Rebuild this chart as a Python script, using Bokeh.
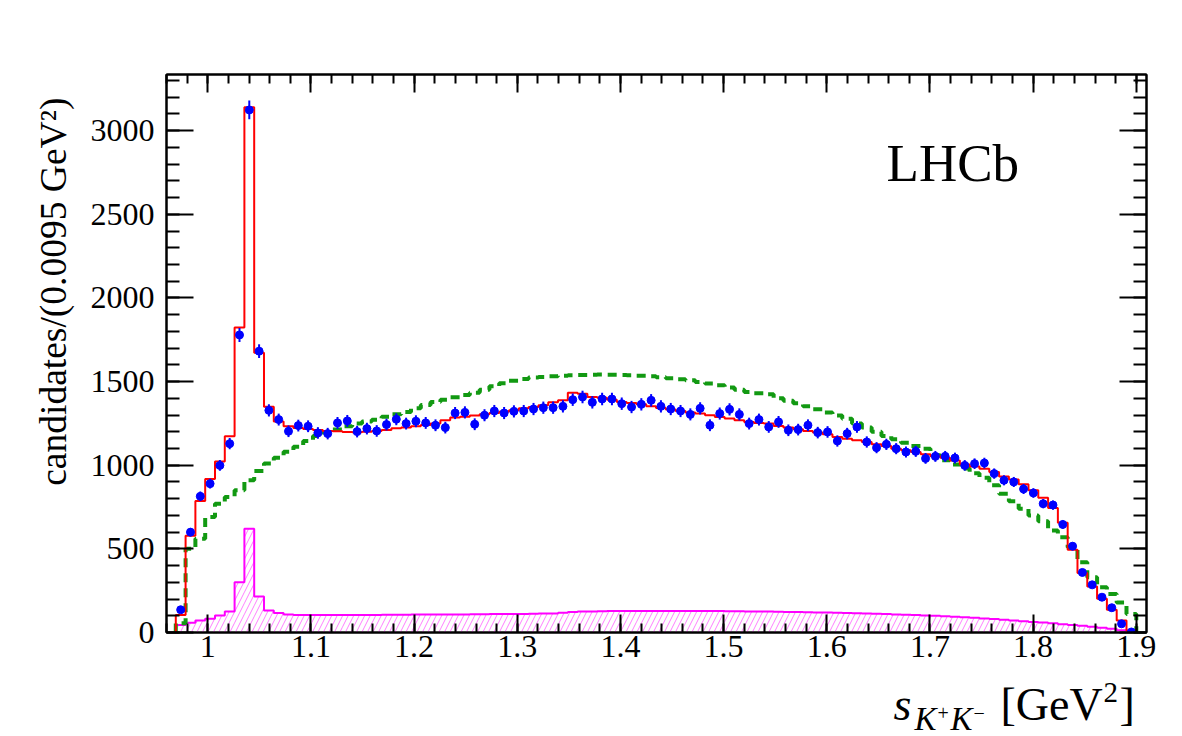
import numpy as np
from bokeh.plotting import figure
from bokeh.layouts import row, column
from bokeh.models import (Range1d, LinearAxis, SingleIntervalTicker, Label,
                          CustomJSTickFormatter)
from bokeh.embed import file_html
from bokeh.resources import INLINE

# Binning of the K+K- invariant mass squared
bin_lo = 0.969
bin_width = 0.0095
n_bins = 98

# Observed candidates per bin
data_counts = [
    136, 600, 814, 890, 999, 1129, 1779, 3124, 1682, 1328,
    1273, 1203, 1237, 1233, 1193, 1189, 1253, 1265, 1201, 1219,
    1205, 1243, 1275, 1249, 1263, 1253, 1239, 1225, 1312, 1316,
    1245, 1299, 1324, 1312, 1322, 1324, 1336, 1344, 1344, 1352,
    1392, 1408, 1376, 1396, 1396, 1368, 1348, 1364, 1388, 1352,
    1336, 1324, 1304, 1340, 1239, 1309, 1334, 1304, 1249, 1273,
    1229, 1259, 1209, 1213, 1239, 1195, 1199, 1145, 1189, 1229,
    1139, 1105, 1125, 1099, 1079, 1083, 1041, 1053, 1053, 1043,
    999, 1009, 1013, 950, 910, 900, 858, 834, 770, 762,
    646, 516, 359, 285, 211, 148, 52, 3,
]

# Full fit projection
fit_total = [
    104, 579, 786, 918, 1023, 1173, 1823, 3140, 1672, 1349,
    1261, 1233, 1223, 1217, 1211, 1205, 1203, 1199, 1197, 1200,
    1205, 1210, 1221, 1225, 1233, 1240, 1249, 1269, 1285, 1290,
    1297, 1305, 1312, 1320, 1329, 1340, 1348, 1358, 1376, 1388,
    1434, 1428, 1408, 1404, 1392, 1378, 1372, 1364, 1352, 1342,
    1333, 1324, 1316, 1309, 1299, 1288, 1279, 1269, 1259, 1253,
    1249, 1235, 1225, 1215, 1205, 1195, 1185, 1169, 1159, 1149,
    1139, 1125, 1115, 1099, 1089, 1079, 1065, 1053, 1045, 1029,
    1005, 993, 979, 959, 933, 914, 886, 850, 806, 744,
    656, 495, 355, 275, 202, 136, 72, 12,
]

# Alternative model projection (dashed)
model_alt = [
    55, 500, 560, 690, 770, 810, 850, 910, 965, 1010,
    1045, 1080, 1110, 1145, 1175, 1197, 1213, 1233, 1250, 1262,
    1272, 1290, 1305, 1318, 1340, 1360, 1378, 1392, 1406, 1420,
    1434, 1452, 1472, 1490, 1505, 1515, 1524, 1528, 1532, 1535,
    1538, 1540, 1541, 1542, 1541, 1540, 1538, 1535, 1532, 1526,
    1520, 1514, 1508, 1498, 1488, 1478, 1465, 1452, 1438, 1431,
    1424, 1400, 1385, 1370, 1352, 1335, 1315, 1298, 1278, 1250,
    1225, 1200, 1175, 1155, 1135, 1115, 1098, 1060, 1030, 1005,
    980, 952, 925, 880, 830, 785, 740, 700, 665, 610,
    570, 510, 420, 330, 270, 230, 180, 110,
]

# Background component (hatched)
background = [
    45, 58, 72, 82, 102, 125, 301, 620, 215, 132,
    116, 108, 104, 104, 104, 104, 104, 105, 105, 105,
    105, 106, 106, 106, 107, 107, 107, 108, 108, 108,
    109, 109, 110, 110, 111, 111, 112, 113, 114, 118,
    122, 125, 126, 127, 128, 128, 129, 129, 129, 129,
    129, 129, 129, 128, 128, 128, 127, 127, 126, 126,
    125, 124, 123, 122, 121, 120, 119, 118, 117, 115,
    114, 112, 110, 108, 106, 104, 102, 100, 97, 94,
    91, 88, 84, 80, 76, 72, 68, 63, 60, 56,
    50, 45, 40, 34, 28, 22, 14, 6,
]

x_ticks = [1.0, 1.1, 1.2, 1.3, 1.4, 1.5, 1.6, 1.7, 1.8, 1.9]
y_ticks = [0, 500, 1000, 1500, 2000, 2500, 3000]

edges = bin_lo + bin_width * np.arange(n_bins + 1)
centers = 0.5 * (edges[:-1] + edges[1:])
counts = np.array(data_counts, dtype=float)
errors = np.sqrt(counts)


def outline(vals):
    """Histogram outline that starts and ends on the zero line."""
    xs = np.repeat(edges, 2)
    ys = np.concatenate([[0.0], np.repeat(np.asarray(vals, float), 2), [0.0]])
    return xs, ys


SERIF = "Liberation Serif"
# Label anchors sit slightly above the glyph baseline; shift by this fraction of the font size
BASE_SHIFT = 0.38

PAGE_W = 1182
PAGE_H = 736
LEFT_W = 80
MAIN_W = PAGE_W - LEFT_W
MAIN_H = 676
BOTTOM_H = PAGE_H - MAIN_H

p = figure(width=MAIN_W, height=MAIN_H,
           x_range=Range1d(0.96, 1.9099), y_range=Range1d(0, 3336),
           output_backend="svg", toolbar_location=None,
           x_axis_type=None, y_axis_type=None,
           min_border_left=166 - LEFT_W, min_border_right=36,
           min_border_top=74, min_border_bottom=MAIN_H - 632)
p.background_fill_color = "white"
p.border_fill_color = "white"
p.outline_line_color = "black"
p.outline_line_width = 2

no_labels = CustomJSTickFormatter(code="return '';")
x_fmt = CustomJSTickFormatter(code="return String(Math.round(tick * 10) / 10);")


def style_axis(ax, tick_len):
    ax.axis_line_width = 2
    ax.major_tick_in = tick_len
    ax.major_tick_out = 0
    ax.minor_tick_in = tick_len // 2
    ax.minor_tick_out = 0
    ax.major_tick_line_width = 2
    ax.minor_tick_line_width = 2
    ax.major_label_text_font = SERIF
    ax.major_label_text_color = "black"
    ax.major_label_text_font_size = "32px"


for loc, show in (("below", True), ("above", False)):
    ax = LinearAxis(ticker=SingleIntervalTicker(interval=x_ticks[1] - x_ticks[0], num_minor_ticks=5),
                    formatter=x_fmt if show else no_labels)
    style_axis(ax, 18)
    ax.major_label_standoff = 3
    p.add_layout(ax, loc)

for loc, show in (("left", True), ("right", False)):
    ax = LinearAxis(ticker=SingleIntervalTicker(interval=y_ticks[1] - y_ticks[0], num_minor_ticks=5))
    if not show:
        ax.formatter = no_labels
    style_axis(ax, 27)
    ax.major_label_standoff = 12
    p.add_layout(ax, loc)

# Hatched background component
p.quad(left=edges[:-1], right=edges[1:], bottom=0, top=background,
       fill_color="white", fill_alpha=0, line_color=None,
       hatch_pattern="/", hatch_color="#ff00ff", hatch_alpha=0.5,
       hatch_scale=11, hatch_weight=1)
bx, by = outline(background)
p.line(bx, by, line_color="#ff00ff", line_width=2)

# Alternative model, dashed
gx, gy = outline(model_alt)
p.line(gx, gy, line_color="#129912", line_width=4, line_dash="9 6")

# Total fit
rx, ry = outline(fit_total)
p.line(rx, ry, line_color="#ff0000", line_width=2)

# Data with statistical uncertainties
p.segment(x0=centers, y0=counts - errors, x1=centers, y1=counts + errors,
          line_color="#0000ff", line_width=2)
p.scatter(centers, counts, size=8, marker="circle",
          fill_color="#0000ff", line_color="#0000ff")

# Experiment tag
p.add_layout(Label(x=1.658, y=2807, text="LHCb", text_font=SERIF,
                   text_font_size="53px", text_color="black",
                   text_align="left", text_baseline="alphabetic"))


class TextPanel:
    """Blank strip for axis titles, addressed in page pixels."""

    def __init__(self, width, height, x0, y_top):
        self.x0, self.y_bottom = x0, y_top + height
        f = figure(width=width, height=height,
                   x_range=Range1d(0, width), y_range=Range1d(0, height),
                   output_backend="svg", toolbar_location=None,
                   x_axis_type=None, y_axis_type=None, min_border=0)
        f.outline_line_color = None
        f.background_fill_color = "white"
        f.border_fill_color = "white"
        self.fig = f

    def text(self, px, base_row, txt, size, style="normal", angle=0.0, align="left"):
        if angle:
            # quarter-turn text: the baseline shift acts along x
            px, row_ = px - BASE_SHIFT * size, base_row
        else:
            row_ = base_row - BASE_SHIFT * size
        self.fig.add_layout(Label(x=px - self.x0, y=self.y_bottom - row_, text=txt,
                                  angle=angle, text_font=SERIF,
                                  text_font_size=f"{size}px", text_font_style=style,
                                  text_color="black", text_align=align,
                                  text_baseline="alphabetic"))


# Vertical axis title (reads upwards, ends near the frame top).
# The left strip ends up flush with the page bottom in this layout.
left_panel = TextPanel(LEFT_W, MAIN_H, 0, BOTTOM_H)
left_panel.text(67, 88, "candidates/(0.0095 GeV²)", 37.5, angle=np.pi / 2, align="right")

# Horizontal axis title, right-aligned under the frame: s_{K+K-} [GeV^2]
bottom_panel = TextPanel(PAGE_W, BOTTOM_H, 0, MAIN_H)
bottom_panel.text(893, 721, "s", 46, "italic")
bottom_panel.text(914, 731, "K", 33, "italic")
bottom_panel.text(937, 720, "+", 20)
bottom_panel.text(950, 731, "K", 33, "italic")
bottom_panel.text(973, 720, "\u2212", 20)
bottom_panel.text(1000, 721, "[GeV", 46)
bottom_panel.text(1103, 703, "2", 29)
bottom_panel.text(1119, 721, "]", 46)

page = column(row(left_panel.fig, p, spacing=0), bottom_panel.fig, spacing=0)

open("out.html", "w").write(file_html(page, INLINE))
